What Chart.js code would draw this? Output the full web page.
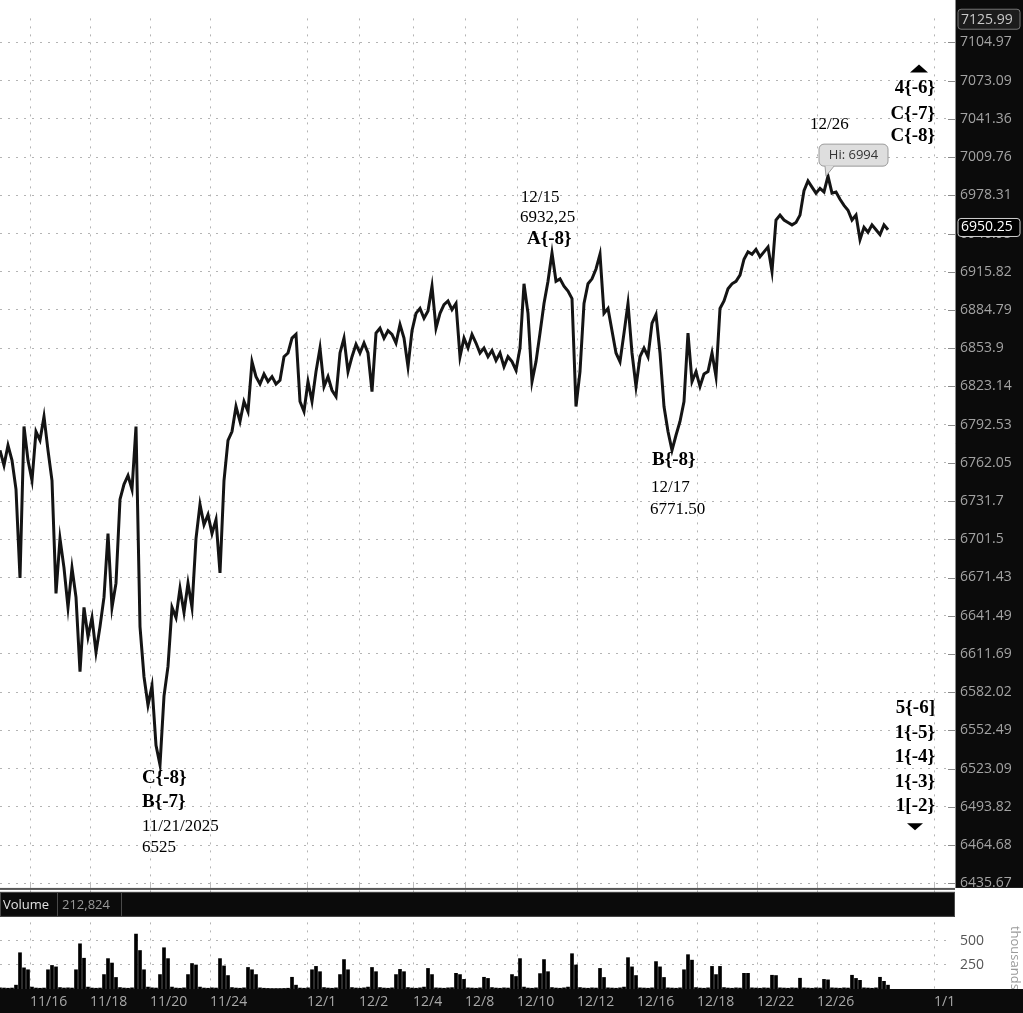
<!DOCTYPE html>
<html>
<head>
<meta charset="utf-8">
<title>ES chart</title>
<script src="https://cdn.jsdelivr.net/npm/chart.js@4/dist/chart.umd.min.js"></script>
<style>
  html, body { margin: 0; padding: 0; background: #fff; }
  canvas { display: block; }
</style>
</head>
<body>
<canvas id="chart" width="1023" height="1013"></canvas>
<script>
// price samples, evenly spaced on the session-time axis
const price = [
  6772, 6760, 6776, 6764, 6741, 6671, 6791, 6764, 6748, 6787,
  6780, 6799, 6772, 6748, 6659, 6702, 6679, 6648, 6679, 6656,
  6598, 6648, 6625, 6640, 6613, 6633, 6656, 6706, 6648, 6667,
  6733, 6745, 6752, 6741, 6791, 6633, 6594, 6572, 6587, 6541,
  6526, 6579, 6602, 6648, 6640, 6663, 6644, 6667, 6648, 6702,
  6729, 6713, 6721, 6706, 6717, 6675, 6748, 6780, 6787, 6807,
  6795, 6811, 6803, 6843, 6831, 6825, 6833, 6827, 6831, 6825,
  6828, 6847, 6850, 6862, 6865, 6811, 6803, 6827, 6811, 6835,
  6854, 6823, 6831, 6820, 6815, 6850, 6862, 6835, 6847, 6857,
  6850, 6858, 6850, 6819, 6866, 6870, 6862, 6868, 6865, 6858,
  6873, 6862, 6839, 6868, 6882, 6886, 6878, 6884, 6904, 6870,
  6882, 6889, 6892, 6885, 6890, 6847, 6862, 6854, 6865, 6858,
  6850, 6854, 6847, 6852, 6844, 6850, 6839, 6847, 6843, 6836,
  6854, 6906, 6882, 6827, 6843, 6866, 6890, 6908, 6931, 6908,
  6910, 6904, 6900, 6894, 6807, 6835, 6890, 6906, 6910, 6918,
  6930, 6882, 6886, 6868, 6850, 6843, 6866, 6890, 6850, 6823,
  6847, 6854, 6847, 6874, 6881, 6850, 6807, 6787, 6772, 6784,
  6795, 6811, 6866, 6827, 6835, 6823, 6833, 6835, 6850, 6831,
  6886, 6892, 6902, 6906, 6908, 6913, 6926, 6932, 6930, 6934,
  6928, 6932, 6936, 6916, 6958, 6962, 6958, 6956, 6954, 6956,
  6962, 6982, 6990, 6985, 6980, 6984, 6981, 6994, 6980, 6981,
  6975, 6970, 6966, 6958, 6962, 6942, 6952, 6948, 6954, 6950,
  6946, 6954, 6950
];

// volume in thousands, same samples
const volume = [
  12, 10, 8, 10, 40, 377, 220, 200, 20, 10,
  8, 10, 200, 245, 230, 15, 10, 12, 10, 200,
  470, 320, 20, 10, 8, 10, 150, 316, 270, 120,
  15, 10, 8, 12, 571, 400, 200, 20, 12, 10,
  150, 429, 316, 20, 10, 8, 12, 150, 265, 250,
  20, 10, 8, 12, 10, 316, 240, 140, 15, 10,
  8, 12, 224, 200, 150, 12, 8, 6, 5, 5,
  5, 6, 8, 122, 40, 10, 8, 12, 200, 235,
  180, 15, 10, 8, 12, 150, 306, 200, 15, 10,
  8, 12, 20, 224, 180, 15, 10, 8, 12, 150,
  204, 180, 15, 10, 8, 12, 20, 214, 150, 12,
  10, 8, 12, 14, 163, 150, 100, 12, 10, 8,
  12, 122, 110, 15, 10, 8, 12, 10, 150, 130,
  316, 20, 10, 8, 12, 160, 306, 180, 15, 10,
  8, 12, 20, 367, 250, 15, 10, 8, 12, 10,
  214, 120, 12, 10, 8, 12, 20, 326, 230, 140,
  12, 10, 8, 12, 285, 230, 120, 12, 10, 8,
  12, 200, 357, 300, 15, 10, 8, 12, 235, 150,
  235, 15, 10, 8, 12, 10, 163, 163, 12, 10,
  8, 12, 10, 143, 140, 12, 10, 8, 12, 10,
  112, 12, 10, 8, 12, 10, 100, 95, 12, 10,
  8, 12, 10, 143, 110, 90, 12, 10, 8, 12,
  122, 80, 40
];

// time axis: sample index where each labelled day starts
const dateLabels = ['11/16', '11/18', '11/20', '11/24', '12/1', '12/2', '12/4', '12/8',
                    '12/10', '12/12', '12/16', '12/18', '12/22', '12/26', '1/1'];
const dateTicks = [7.5, 22.5, 37.5, 52.5, 76.75, 89.75, 103.25, 116.25,
                   129.25, 144.25, 159.25, 174.25, 189.25, 204.25, 233.5];

const priceTicks = [6435.67, 6464.68, 6493.82, 6523.09, 6552.49, 6582.02, 6611.69, 6641.49,
                    6671.43, 6701.5, 6731.7, 6762.05, 6792.53, 6823.14, 6853.9, 6884.79,
                    6915.82, 6946.95, 6978.31, 7009.76, 7041.36, 7073.09, 7104.97];
const priceLabels = ['6435.67', '6464.68', '6493.82', '6523.09', '6552.49', '6582.02', '6611.69', '6641.49',
                     '6671.43', '6701.5', '6731.7', '6762.05', '6792.53', '6823.14', '6853.9', '6884.79',
                     '6915.82', '6946.95', '6978.31', '7009.76', '7041.36', '7073.09', '7104.97'];
const volTicks = [250, 500];
const volLabels = ['250', '500'];

const topQuote = 7125.99;
const lastQuote = 6950.25;
const highQuote = 6994;
const volumeTotal = '212,824';

// wave labels, anchored at (sample index, price)
const notes = [
  { text: '12/26', at: 202.5, price: 7036.7, bold: false, align: 'left' },
  { text: '4{-6}', at: 233.75, price: 7066.8, bold: true, align: 'right' },
  { text: 'C{-7}', at: 233.75, price: 7045.6, bold: true, align: 'right' },
  { text: 'C{-8}', at: 233.75, price: 7027.0, bold: true, align: 'right' },
  { text: '12/15', at: 130.2, price: 6976.8, bold: false, align: 'left' },
  { text: '6932,25', at: 130, price: 6960.1, bold: false, align: 'left' },
  { text: 'A{-8}', at: 131.75, price: 6942.3, bold: true, align: 'left' },
  { text: 'B{-8}', at: 163, price: 6764.3, bold: true, align: 'left' },
  { text: '12/17', at: 162.75, price: 6742.4, bold: false, align: 'left' },
  { text: '6771.50', at: 162.5, price: 6725.3, bold: false, align: 'left' },
  { text: 'C{-8}', at: 35.5, price: 6515.9, bold: true, align: 'left' },
  { text: 'B{-7}', at: 35.5, price: 6497.1, bold: true, align: 'left' },
  { text: '11/21/2025', at: 35.5, price: 6479.1, bold: false, align: 'left' },
  { text: '6525', at: 35.5, price: 6462.7, bold: false, align: 'left' },
  { text: '5{-6]', at: 233.75, price: 6569.5, bold: true, align: 'right' },
  { text: '1{-5}', at: 233.75, price: 6550.6, bold: true, align: 'right' },
  { text: '1{-4}', at: 233.75, price: 6531.7, bold: true, align: 'right' },
  { text: '1{-3}', at: 233.75, price: 6512.9, bold: true, align: 'right' },
  { text: '1[-2}', at: 233.75, price: 6494.1, bold: true, align: 'right' }
];
const arrowUp = { at: 229.75, price: 7083.2 };
const arrowDown = { at: 228.75, price: 6478.7 };
const highAt = 206.5;

const sans = 'Open Sans, Noto Sans, sans-serif';
const serif = 'Liberation Serif, Times New Roman, serif';
const gridColor = '#b4b4b4';

function roundRect(ctx, x, y, w, h, r) {
    ctx.beginPath();
    ctx.moveTo(x + r, y);
    ctx.arcTo(x + w, y, x + w, y + h, r);
    ctx.arcTo(x + w, y + h, x, y + h, r);
    ctx.arcTo(x, y + h, x, y, r);
    ctx.arcTo(x, y, x + w, y, r);
    ctx.closePath();
}

const panels = {
    id: 'panels',
    beforeDraw(chart) {
        const { ctx, chartArea: a, width, height } = chart;
        const y = chart.scales.y;
        ctx.save();
        ctx.fillStyle = '#fff';
        ctx.fillRect(0, 0, width, height);
        // price scale panel and time axis band
        ctx.fillStyle = '#0b0b0b';
        ctx.fillRect(a.right + 5, 0, width - a.right - 5, y.bottom);
        ctx.fillRect(0, a.bottom, width, height - a.bottom);
        ctx.strokeStyle = '#8a8a8a';
        ctx.lineWidth = 1;
        ctx.beginPath();
        ctx.moveTo(a.right + 5.5, 0);
        ctx.lineTo(a.right + 5.5, y.bottom);
        ctx.stroke();
        ctx.restore();
    },
    afterDatasetsDraw(chart) {
        const { ctx, chartArea: a, width } = chart;
        const x = chart.scales.x, y = chart.scales.y;
        ctx.save();

        // tick marks on the price scale
        ctx.strokeStyle = '#8a8a8a';
        ctx.lineWidth = 1;
        priceTicks.forEach(v => {
            const py = Math.round(y.getPixelForValue(v)) + 0.5;
            ctx.beginPath();
            ctx.moveTo(a.right - 2, py);
            ctx.lineTo(a.right + 5, py);
            ctx.stroke();
        });

        // boxed quotes on the price scale
        const topY = Math.max(y.getPixelForValue(topQuote), 0) + 4;
        roundRect(ctx, a.right + 8, topY - 12, 62, 20, 3);
        ctx.fillStyle = '#1c1c1c';
        ctx.fill();
        ctx.strokeStyle = '#777';
        ctx.stroke();
        ctx.font = '14px ' + sans;
        ctx.textBaseline = 'middle';
        ctx.textAlign = 'left';
        ctx.fillStyle = '#c8c8c8';
        ctx.fillText(topQuote.toFixed(2), a.right + 11, topY - 1);

        const lastY = y.getPixelForValue(lastQuote) - 2;
        roundRect(ctx, a.right + 8, lastY - 9, 62, 18, 3);
        ctx.fillStyle = '#000';
        ctx.fill();
        ctx.strokeStyle = '#d0d0d0';
        ctx.stroke();
        ctx.fillStyle = '#fff';
        ctx.fillText(lastQuote.toFixed(2), a.right + 11, lastY);

        // pane separator and volume header
        const sep = y.bottom;
        ctx.strokeStyle = '#bdbdbd';
        dateTicks.forEach(v => {
            const px = Math.round(x.getPixelForValue(v)) + 0.5;
            ctx.beginPath();
            ctx.moveTo(px, sep - 6);
            ctx.lineTo(px, sep);
            ctx.stroke();
        });
        ctx.fillStyle = '#555';
        ctx.fillRect(0, sep, a.right + 5, 2);
        ctx.fillStyle = '#0b0b0b';
        ctx.fillRect(0, sep + 4, a.right + 5, 25);
        ctx.strokeStyle = '#4a4a4a';
        ctx.strokeRect(0.5, sep + 4.5, a.right + 4, 24);
        ctx.beginPath();
        ctx.moveTo(57.5, sep + 5);
        ctx.lineTo(57.5, sep + 28);
        ctx.moveTo(121.5, sep + 5);
        ctx.lineTo(121.5, sep + 28);
        ctx.stroke();
        ctx.font = '13px ' + sans;
        ctx.fillStyle = '#e2e2e2';
        ctx.fillText('Volume', 3, sep + 17);
        ctx.fillStyle = '#9a9a9a';
        ctx.fillText(volumeTotal, 62, sep + 17);

        // unit label of the volume scale
        ctx.save();
        ctx.beginPath();
        ctx.rect(a.right + 6, sep + 4, width - a.right, a.bottom - sep - 4);
        ctx.clip();
        ctx.translate(width - 8, sep + 38);
        ctx.rotate(Math.PI / 2);
        ctx.fillStyle = '#999';
        ctx.font = '13px ' + sans;
        ctx.fillText('thousands', 0, 0);
        ctx.restore();

        // high callout
        const hx = x.getPixelForValue(highAt), hy = y.getPixelForValue(highQuote);
        roundRect(ctx, hx - 7, hy - 32, 69, 22, 5);
        ctx.fillStyle = '#dedede';
        ctx.strokeStyle = '#9a9a9a';
        ctx.fill();
        ctx.stroke();
        ctx.beginPath();
        ctx.moveTo(hx - 1, hy - 10.5);
        ctx.lineTo(hx, hy);
        ctx.lineTo(hx + 8, hy - 10.5);
        ctx.closePath();
        ctx.fill();
        ctx.beginPath();
        ctx.moveTo(hx - 1, hy - 10);
        ctx.lineTo(hx, hy);
        ctx.lineTo(hx + 8, hy - 10);
        ctx.stroke();
        ctx.fillStyle = '#333';
        ctx.textAlign = 'center';
        ctx.fillText('Hi: ' + highQuote, hx + 27.5, hy - 21);

        // wave labels
        notes.forEach(n => {
            ctx.font = (n.bold ? 'bold 19px ' : '17px ') + serif;
            ctx.textAlign = n.align;
            ctx.fillStyle = '#000';
            ctx.fillText(n.text, x.getPixelForValue(n.at), y.getPixelForValue(n.price));
        });

        // direction arrows
        ctx.fillStyle = '#000';
        let ax = x.getPixelForValue(arrowUp.at), ay = y.getPixelForValue(arrowUp.price);
        ctx.beginPath();
        ctx.moveTo(ax - 9, ay + 4);
        ctx.lineTo(ax + 9, ay + 4);
        ctx.lineTo(ax, ay - 4);
        ctx.closePath();
        ctx.fill();
        ax = x.getPixelForValue(arrowDown.at);
        ay = y.getPixelForValue(arrowDown.price);
        ctx.beginPath();
        ctx.moveTo(ax - 8, ay - 3.5);
        ctx.lineTo(ax + 8, ay - 3.5);
        ctx.lineTo(ax, ay + 3.5);
        ctx.closePath();
        ctx.fill();

        ctx.restore();
    }
};

const ctx = document.getElementById('chart').getContext('2d');
new Chart(ctx, {
    type: 'line',
    data: {
        datasets: [{
            type: 'line',
            label: 'ES',
            data: price.map((v, i) => ({ x: i, y: v })),
            yAxisID: 'y',
            borderColor: '#141414',
            borderWidth: 3,
            pointRadius: 0,
            tension: 0
        }, {
            type: 'bar',
            label: 'Volume',
            data: volume.map((v, i) => ({ x: i, y: v })),
            yAxisID: 'yv',
            backgroundColor: '#000',
            barThickness: 3
        }]
    },
    options: {
        responsive: false,
        animation: false,
        layout: { padding: 0 },
        plugins: {
            legend: { display: false },
            tooltip: { enabled: false }
        },
        scales: {
            x: {
                type: 'linear',
                position: 'bottom',
                offset: false,
                min: 0,
                max: 237.5,
                afterBuildTicks: s => { s.ticks = dateTicks.map(v => ({ value: v })); },
                afterFit: s => { s.height = 24; s.paddingLeft = 0; s.paddingRight = 0; },
                ticks: {
                    callback: (v, i) => dateLabels[i],
                    align: 'start',
                    autoSkip: false,
                    maxRotation: 0,
                    color: '#a8a8a8',
                    font: { family: sans, size: 14 },
                    padding: 5
                },
                grid: { color: gridColor, drawTicks: false, offset: false },
                border: { display: false, dash: [2, 6] }
            },
            y: {
                type: 'logarithmic',
                position: 'right',
                stack: 'panes',
                stackWeight: 886,
                min: 6432.2,
                max: 7125,
                afterBuildTicks: s => { s.ticks = priceTicks.map(v => ({ value: v })); },
                afterFit: s => { s.width = 73; },
                ticks: {
                    callback: (v, i) => priceLabels[i],
                    color: '#a3a3a3',
                    font: { family: sans, size: 14 },
                    padding: 10
                },
                grid: { color: gridColor, drawTicks: false },
                border: { display: false, dash: [2, 6] }
            },
            yv: {
                type: 'linear',
                position: 'right',
                stack: 'panes',
                stackWeight: 103,
                min: 0,
                max: 1051,
                afterBuildTicks: s => { s.ticks = volTicks.map(v => ({ value: v })); },
                afterFit: s => { s.width = 73; },
                ticks: {
                    callback: (v, i) => volLabels[i],
                    color: '#555',
                    font: { family: sans, size: 14 },
                    padding: 10
                },
                grid: { color: gridColor, drawTicks: false },
                border: { display: false, dash: [2, 6] }
            }
        }
    },
    plugins: [panels]
});
</script>
</body>
</html>
